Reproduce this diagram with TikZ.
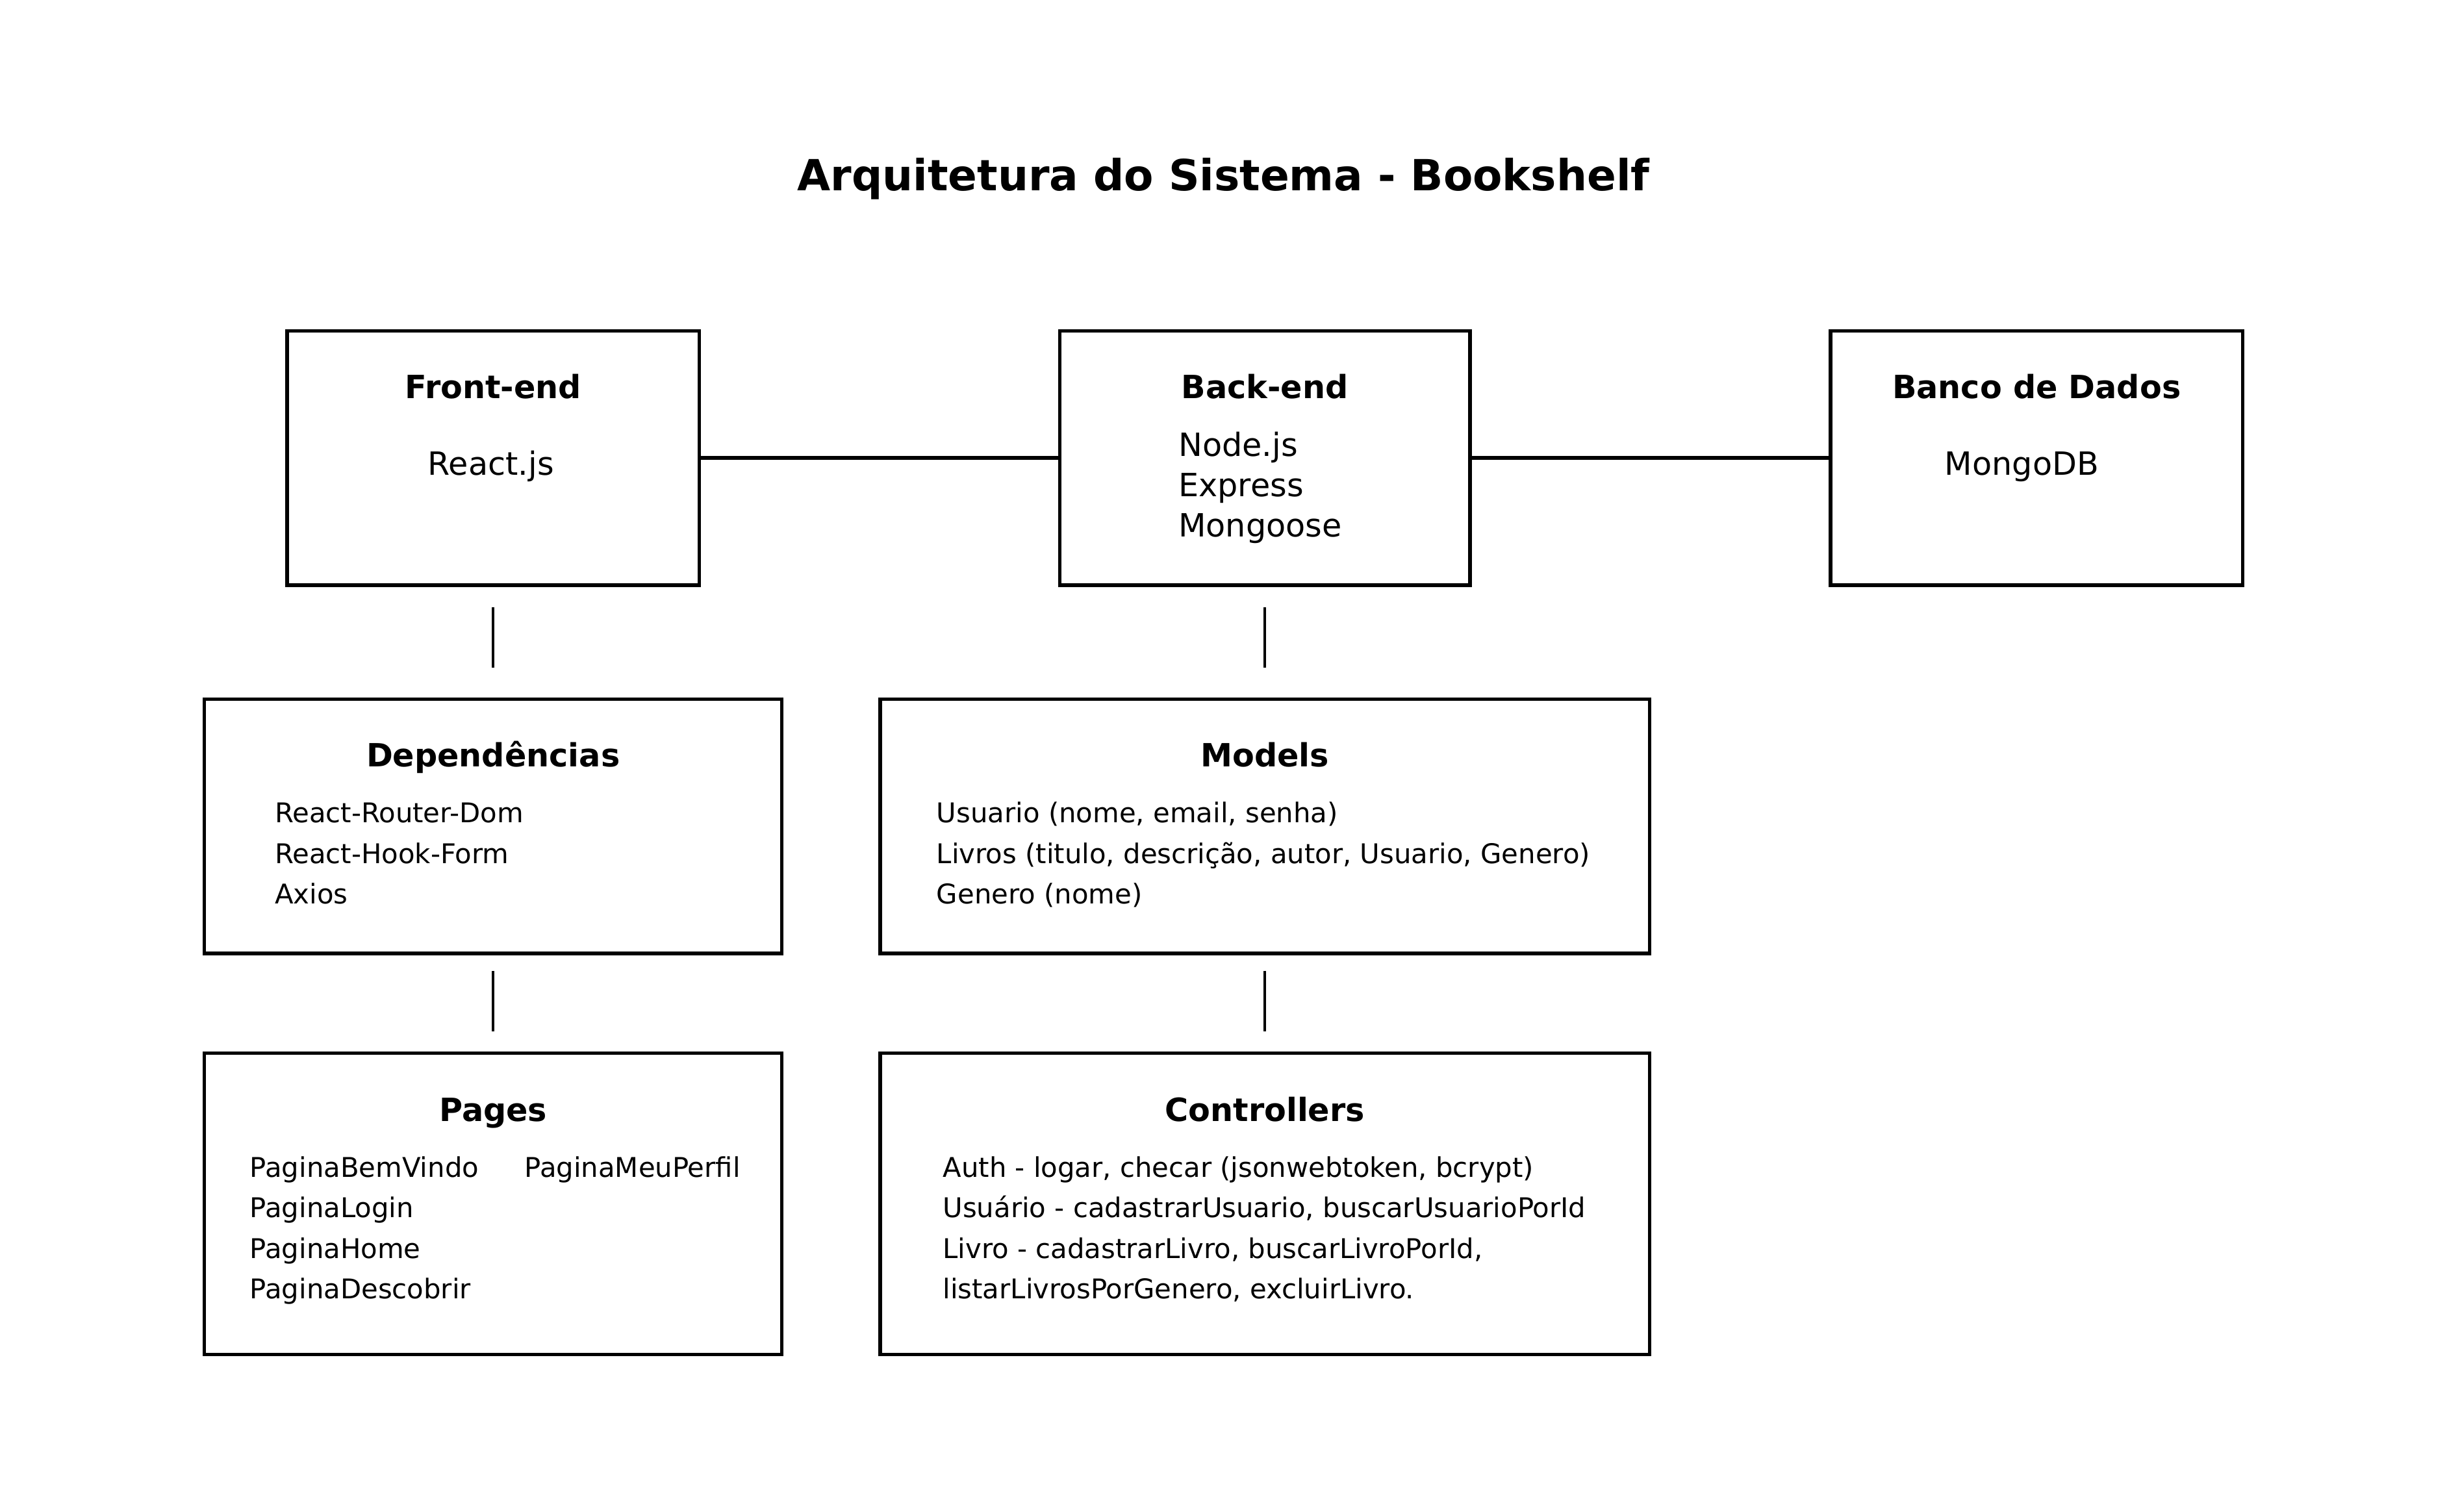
\documentclass[tikz,border=0pt]{standalone}
\usepackage{fontspec}
\setmainfont{DejaVu Sans}
\tikzset{
  box/.style={draw, line width=2.2pt, inner sep=0pt},
  hlink/.style={line width=2.2pt},
  vlink/.style={line width=1.9pt},
  titlefont/.style={font=\bfseries\fontsize{27.5}{33}\selectfont, anchor=base},
  head/.style={font=\bfseries\fontsize{20.5}{25}\selectfont, anchor=base},
  body/.style={font=\fontsize{20.5}{25}\selectfont, anchor=base west, inner sep=0pt},
  item/.style={font=\fontsize{17.4}{21}\selectfont, anchor=base west, inner sep=0pt}
}
\begin{document}
\begin{tikzpicture}[x=1pt, y=-1pt]
    \useasboundingbox (0,0) rectangle (1568,969);
    \node[titlefont] (title) at (784, 122) {Arquitetura do Sistema - Bookshelf};

    % top row
    \node[box, minimum width=264, minimum height=163] (fe) at (316, 293.5) {};
    \node[box, minimum width=263, minimum height=163] (be) at (810.5, 293.5) {};
    \node[box, minimum width=264, minimum height=163] (db) at (1305, 293.5) {};
    \node[head] (fe-t) at (316, 255.5) {Front-end};
    \node[head] (be-t) at (810.5, 255.5) {Back-end};
    \node[head] (db-t) at (1305, 255.5) {Banco de Dados};
    \node[body] (fe-1) at (274, 304.5) {React.js};
    \foreach [count=\i] \txt in {Node.js, Express, Mongoose}
      \node[body] (be-\i) at (755, 266.8+25.7*\i) {\txt};
    \node[body] (db-1) at (1246, 304.5) {MongoDB};

    % middle row
    \node[box, minimum width=370, minimum height=163] (dep) at (316, 529.5) {};
    \node[box, minimum width=493, minimum height=163] (mod) at (810.5, 529.5) {};
    \node[head] (dep-t) at (316, 491.5) {Dependências};
    \node[head] (mod-t) at (810.5, 491.5) {Models};
    \foreach [count=\i] \txt in {React-Router-Dom, React-Hook-Form, Axios}
      \node[item] (dep-\i) at (176, 501.3+26*\i) {\txt};
    \foreach [count=\i] \txt in {{Usuario (nome, email, senha)},
        {Livros (titulo, descrição, autor, Usuario, Genero)}, {Genero (nome)}}
      \node[item] (mod-\i) at (600, 501.3+26*\i) {\txt};

    % bottom row
    \node[box, minimum width=370, minimum height=193] (pag) at (316, 771.5) {};
    \node[box, minimum width=493, minimum height=193] (ctl) at (810.5, 771.5) {};
    \node[head] (pag-t) at (316, 718.5) {Pages};
    \node[head] (ctl-t) at (810.5, 718.5) {Controllers};
    \foreach [count=\i] \txt in {PaginaBemVindo, PaginaLogin, PaginaHome, PaginaDescobrir}
      \node[item] (pag-\i) at (160, 728.3+26*\i) {\txt};
    \node[item] (pag-5) at (336, 754.3) {PaginaMeuPerfil};
    \foreach [count=\i] \txt in {{Auth - logar, checar (jsonwebtoken, bcrypt)},
        {Usuário - cadastrarUsuario, buscarUsuarioPorId},
        {Livro - cadastrarLivro, buscarLivroPorId,},
        {listarLivrosPorGenero, excluirLivro.}}
      \node[item] (ctl-\i) at (604, 728.3+26*\i) {\txt};

    % links
    \draw[hlink] (fe) -- (be);
    \draw[hlink] (be) -- (db);
    \draw[vlink, shorten <=13pt, shorten >=19pt] (fe) -- (dep);
    \draw[vlink, shorten <=13pt, shorten >=19pt] (be) -- (mod);
    \draw[vlink, shorten <=10pt, shorten >=13pt] (dep) -- (pag);
    \draw[vlink, shorten <=10pt, shorten >=13pt] (mod) -- (ctl);
  \end{tikzpicture}
\end{document}
